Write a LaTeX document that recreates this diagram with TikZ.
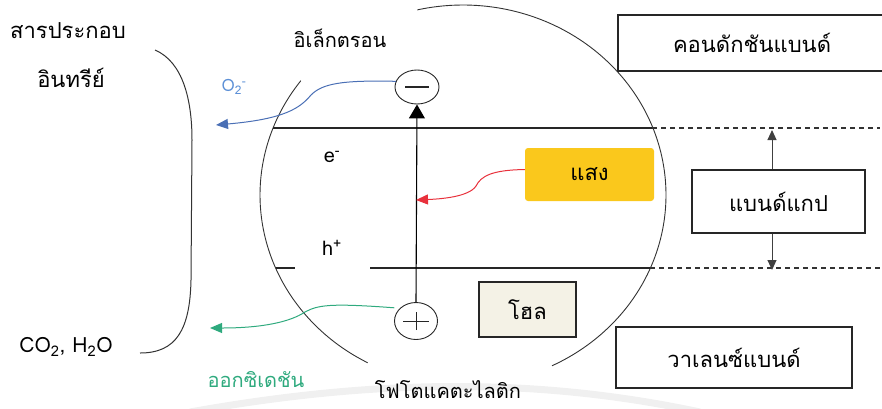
\documentclass[tikz,border=0pt]{standalone}
\usepackage{fontspec}
\setmainfont{Loma}[Script=Thai]
\usetikzlibrary{arrows.meta,shapes.geometric}
\definecolor{bluearr}{HTML}{4A6FB5}
\definecolor{bluetxt}{HTML}{5B8FD6}
\definecolor{greenarr}{HTML}{2FAA7E}
\definecolor{redarr}{HTML}{E8313C}
\definecolor{lightbox}{HTML}{FAC81C}
\definecolor{holefill}{HTML}{F4F2E6}
\begin{document}
\begin{tikzpicture}[x=1pt,y=-1pt,
  lbl/.style={inner sep=0pt, font=\fontsize{20}{24}\selectfont},
  bigtxt/.style={inner sep=0pt, font=\fontsize{22}{26}\selectfont},
  bandbox/.style={draw=black!85, line width=1.1pt, inner sep=0pt, font=\fontsize{22}{26}\selectfont},
  charge/.style={ellipse, draw=black!85, line width=0.9pt, inner sep=0pt},
  band/.style={draw=black!85, line width=1.1pt},
  bandext/.style={draw=black!80, line width=1.1pt, dash pattern=on 5pt off 4pt},
  curvearr/.style={line width=1pt, -{Triangle[width=10pt,length=12pt]}},
  gaparr/.style={draw=black!75, line width=1pt, -{Triangle[width=9pt,length=10pt]}}
]
\useasboundingbox (0,0) rectangle (882,408);

% faint watermark swoosh
\draw[gray!12, line width=7pt] (190,412) .. controls (380,378) and (540,378) .. (700,412);

% photocatalyst particle outline
\draw[black!80, line width=0.9pt] plot[domain=143:242, samples=80] ({463+203*cos(\x)},{195-190*sin(\x)});
\draw[black!80, line width=0.9pt] plot[domain=296:463, samples=120] ({463+203*cos(\x)},{195-190*sin(\x)});

% bracket
\draw[black!80, line width=1pt] (155,50) .. controls (183,62) and (192,100) .. (192,140)
  -- (191,280) .. controls (190,330) and (176,353) .. (140,353);

% boxes
\node[bandbox, minimum width=268pt, minimum height=56pt] (cb) at (752,43) {};
\node[bigtxt] (cbtext) at (752,43) {คอนดักชันแบนด์};
\node[bandbox, minimum width=173pt, minimum height=63pt] (gap) at (778.5,201.5) {แบนด์แกป};
\node[bandbox, minimum width=236pt, minimum height=61pt] (vb) at (734,357.5) {วาเลนซ์แบนด์};
\node[bigtxt, fill=lightbox, rounded corners=3pt, minimum width=129pt, minimum height=53pt] (light) at (589.5,174.5) {แสง};
\node[bandbox, fill=holefill, minimum width=97pt, minimum height=55pt] (hole) at (527.5,309.5) {โฮล};

% band edges
\coordinate (cbL) at (273,128);
\coordinate (cbM) at (652,128);
\coordinate (cbR) at (880,128);
\coordinate (vbL) at (276,268);
\coordinate (vbL2) at (295,268);
\coordinate (vbM0) at (370,268);
\coordinate (vbM) at (650,268);
\coordinate (vbR) at (880,268);
\draw[band] (cbL) -- (cbM);
\draw[bandext] (cbM) -- (cbR);
\draw[band] (vbL) -- (vbL2);
\draw[band] (vbM0) -- (vbM);
\draw[bandext] (vbM) -- (vbR);

% charges
\node[charge, minimum width=44pt, minimum height=34pt] (minus) at (417,87) {};
\draw[black!85, line width=1.1pt] ([xshift=-12pt]minus.center) -- ([xshift=12pt]minus.center);
\node[charge, minimum width=43pt, minimum height=37pt] (plus) at (416,321) {};
\draw[black!85, line width=1pt] ([xshift=-13pt]plus.center) -- ([xshift=13pt]plus.center);
\draw[black!85, line width=1pt] ([yshift=-9pt]plus.center) -- ([yshift=9pt]plus.center);

% excitation arrow
\draw[black, line width=1.1pt, -{Triangle[width=16pt,length=14pt]}] (plus.north) -- (minus.south);

% band gap arrows
\coordinate (gtop) at (772,130);
\coordinate (gbot) at (772,270);
\draw[gaparr] (gap.north -| gtop) -- (gtop);
\draw[gaparr] (gap.south -| gbot) -- (gbot);

% curved arrows
\coordinate (blueend) at (216,125);
\coordinate (greenend) at (210,328);
\coordinate (redend) at (416,200);
\draw[bluearr, curvearr] (minus.165) .. controls (340,80) and (322,84) .. (311,95)
  .. controls (300,108) and (285,119) .. (blueend);
\draw[greenarr, curvearr] ([xshift=-6pt]plus.140) .. controls (330,303) and (318,305) .. (305,312)
  .. controls (290,322) and (262,328) .. (greenend);
\draw[redarr, curvearr] ([yshift=5pt]light.west) .. controls (492,170) and (481,176) .. (476,186)
  .. controls (469,197) and (440,199) .. (redend);

% labels
\node[lbl, font=\fontsize{22}{26}\selectfont] (organic1) at (68,31) {สารประกอบ};
\node[lbl, font=\fontsize{22}{26}\selectfont] (organic2) at (71,78) {อินทรีย์};
\node[lbl, font=\fontsize{21}{24}\selectfont] (products) at (66,347) {CO\textsubscript{2}, H\textsubscript{2}O};
\node[lbl, text=bluetxt, font=\fontsize{17}{20}\selectfont] (o2) at (234,87) {O\textsubscript{2}\textsuperscript{-}};
\node[lbl] (oxid) at (256,380) {\textcolor{greenarr}{ออกซิเดชัน}};
\node[lbl] (electron) at (340,38) {อิเล็กตรอน};
\node[lbl] (photocat) at (448,390) {โฟโตแคตะไลติก};
\node[lbl] (elabel) at (332,157) {e\textsuperscript{-}};
\node[lbl] (hlabel) at (332,248) {h\textsuperscript{+}};
\end{tikzpicture}
\end{document}
